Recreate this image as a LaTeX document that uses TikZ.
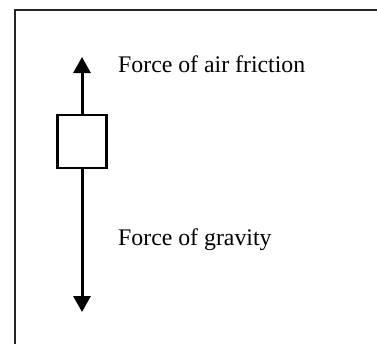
\documentclass[tikz,border=0pt]{standalone}
\usepackage{fontspec}
\setmainfont{Liberation Serif}
\usetikzlibrary{arrows.meta}
\begin{document}
\begin{tikzpicture}[x=1pt,y=1pt,
  frame/.style={line width=2.4pt,draw=black!85},
  body/.style={draw,line width=2.8pt,minimum width=49pt,minimum height=53pt,inner sep=0pt},
  force/.style={line width=3pt,-{Triangle[width=17pt,length=16pt]}},
  lbl/.style={anchor=base west,inner sep=0pt,font=\fontsize{23.8}{28}\selectfont}]
\useasboundingbox (0,0) rectangle (377,-343);
\coordinate (ftr) at (378,-10);
\coordinate (ftl) at (15,-10);
\coordinate (fbl) at (15,-344);
\draw[frame] (ftr) -- (ftl) -- (fbl);
\node[body] (box) at (82,-141.5) {};
\coordinate (up) at (82,-57);
\coordinate (down) at (82,-312);
\draw[force] (box.north) -- (up);
\draw[force] (box.south) -- (down);
\node[lbl] (air) at (118,-72) {Force of air friction};
\node[lbl] (grav) at (118,-245) {Force of gravity};
\end{tikzpicture}
\end{document}
